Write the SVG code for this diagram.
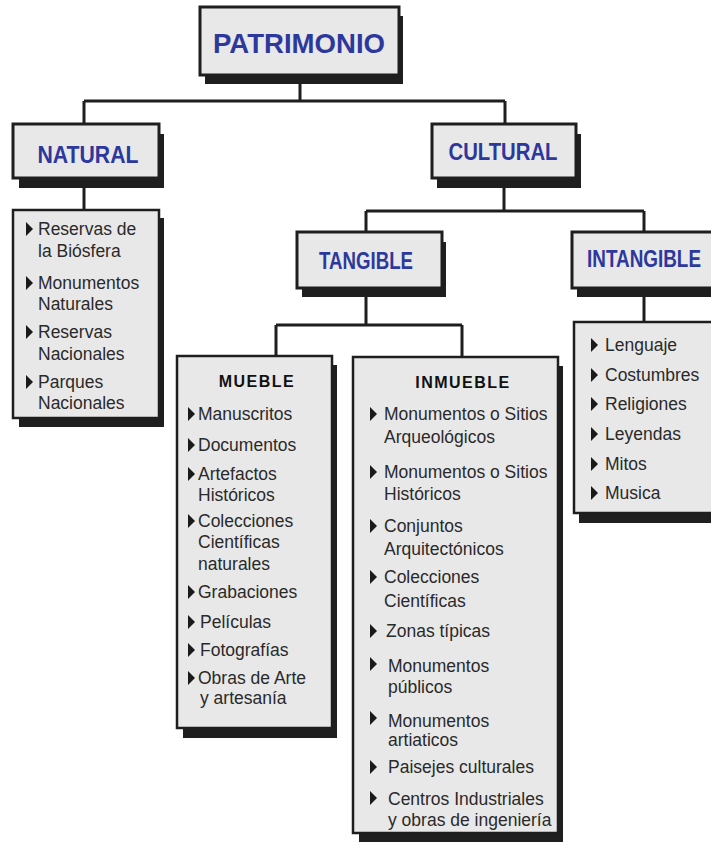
<svg xmlns="http://www.w3.org/2000/svg" xmlns:xlink="http://www.w3.org/1999/xlink" width="711" height="867" viewBox="0 0 711 867">
<defs>
<style>
.box{fill:#e8e8e8;stroke:#1e1e1e;stroke-width:3}
.lbox{fill:#e8e8e8;stroke:#1e1e1e;stroke-width:2.5}
.sh{fill:#1f1f1f}
.title{font-family:"Liberation Sans",Arial,sans-serif;font-weight:bold;fill:#2d389c;text-anchor:middle}
.hd{font-family:"Liberation Sans",Arial,sans-serif;font-weight:bold;fill:#111;text-anchor:middle;font-size:16px;letter-spacing:1.5px}
.it{font-family:"Liberation Sans",Arial,sans-serif;font-size:17.5px;fill:#2a2a2a}
.con{stroke:#1e1e1e;stroke-width:3;fill:none}
</style>
<path id="b" d="M0,-13 L7,-6 L0,1 Z" fill="#1a1a1a"/>
</defs>
<rect width="711" height="867" fill="#ffffff"/>

<g id="connectors" class="con">
<path d="M300,84 V101 M84,101 H505 M84,101 V124 M505,101 V124"/>
<path d="M84,188 V210"/>
<path d="M504,188 V211 M366,211 H644 M366,211 V232 M644,211 V232"/>
<path d="M366,297 V325 M276,325 H462 M276,325 V356 M462,325 V357"/>
<path d="M644,297 V322"/>
</g>

<g id="patrimonio">
<rect class="sh" x="205" y="16" width="198" height="68"/>
<rect class="box" x="200" y="7" width="199" height="68"/>
<text class="title" x="299" y="53" font-size="28" textLength="172" lengthAdjust="spacingAndGlyphs">PATRIMONIO</text>
</g>

<g id="natural">
<rect class="sh" x="19" y="134" width="145" height="54"/>
<rect class="box" x="13" y="124" width="146" height="54"/>
<text class="title" x="88" y="163" font-size="24" textLength="101" lengthAdjust="spacingAndGlyphs">NATURAL</text>
</g>

<g id="natural-list">
<rect class="sh" x="19" y="218" width="145" height="209"/>
<rect class="lbox" x="13" y="210" width="146" height="208"/>
<use xlink:href="#b" x="26" y="235"/><text class="it" x="38" y="235">Reservas de</text>
<text class="it" x="38" y="257">la Biósfera</text>
<use xlink:href="#b" x="26" y="289"/><text class="it" x="38" y="289">Monumentos</text>
<text class="it" x="38" y="310">Naturales</text>
<use xlink:href="#b" x="26" y="338"/><text class="it" x="38" y="338">Reservas</text>
<text class="it" x="38" y="360">Nacionales</text>
<use xlink:href="#b" x="26" y="388"/><text class="it" x="38" y="388">Parques</text>
<text class="it" x="38" y="409">Nacionales</text>
</g>

<g id="cultural">
<rect class="sh" x="437" y="134" width="144" height="54"/>
<rect class="box" x="432" y="124" width="144" height="54"/>
<text class="title" x="503" y="160" font-size="24" textLength="109" lengthAdjust="spacingAndGlyphs">CULTURAL</text>
</g>

<g id="tangible">
<rect class="sh" x="302" y="242" width="144" height="55"/>
<rect class="box" x="297" y="232" width="145" height="56"/>
<text class="title" x="366" y="269" font-size="24" textLength="94" lengthAdjust="spacingAndGlyphs">TANGIBLE</text>
</g>

<g id="intangible">
<rect class="sh" x="577" y="242" width="140" height="55"/>
<rect class="box" x="572" y="232" width="145" height="56"/>
<text class="title" x="644" y="267" font-size="23" textLength="114" lengthAdjust="spacingAndGlyphs">INTANGIBLE</text>
</g>

<g id="intangible-list">
<rect class="sh" x="579" y="330" width="140" height="193"/>
<rect class="lbox" x="574" y="322" width="145" height="191"/>
<use xlink:href="#b" x="591" y="351"/><text class="it" x="605" y="351">Lenguaje</text>
<use xlink:href="#b" x="591" y="381"/><text class="it" x="605" y="381">Costumbres</text>
<use xlink:href="#b" x="591" y="410"/><text class="it" x="605" y="410">Religiones</text>
<use xlink:href="#b" x="591" y="440"/><text class="it" x="605" y="440">Leyendas</text>
<use xlink:href="#b" x="591" y="470"/><text class="it" x="605" y="470">Mitos</text>
<use xlink:href="#b" x="591" y="499"/><text class="it" x="605" y="499">Musica</text>
</g>

<g id="mueble">
<rect class="sh" x="183" y="365" width="154" height="373"/>
<rect class="lbox" x="177" y="356" width="155" height="372"/>
<text class="hd" x="257" y="387">MUEBLE</text>
<use xlink:href="#b" x="188" y="420"/><text class="it" x="198" y="420">Manuscritos</text>
<use xlink:href="#b" x="188" y="451"/><text class="it" x="198" y="451">Documentos</text>
<use xlink:href="#b" x="188" y="480"/><text class="it" x="198" y="480">Artefactos</text>
<text class="it" x="198" y="501">Históricos</text>
<use xlink:href="#b" x="188" y="527"/><text class="it" x="198" y="527">Colecciones</text>
<text class="it" x="198" y="548">Científicas</text>
<text class="it" x="198" y="570">naturales</text>
<use xlink:href="#b" x="188" y="598"/><text class="it" x="198" y="598">Grabaciones</text>
<use xlink:href="#b" x="188" y="628"/><text class="it" x="200" y="628">Películas</text>
<use xlink:href="#b" x="188" y="656"/><text class="it" x="200" y="656">Fotografías</text>
<use xlink:href="#b" x="188" y="684"/><text class="it" x="198" y="684">Obras de Arte</text>
<text class="it" x="200" y="704">y artesanía</text>
</g>

<g id="inmueble">
<rect class="sh" x="359" y="366" width="204" height="476"/>
<rect class="lbox" x="353" y="357" width="205" height="476"/>
<text class="hd" x="463" y="388">INMUEBLE</text>
<use xlink:href="#b" x="370" y="420"/><text class="it" x="384" y="420">Monumentos o Sitios</text>
<text class="it" x="384" y="443">Arqueológicos</text>
<use xlink:href="#b" x="370" y="478"/><text class="it" x="384" y="478">Monumentos o Sitios</text>
<text class="it" x="384" y="500">Históricos</text>
<use xlink:href="#b" x="370" y="532"/><text class="it" x="384" y="532">Conjuntos</text>
<text class="it" x="384" y="555">Arquitectónicos</text>
<use xlink:href="#b" x="370" y="583"/><text class="it" x="384" y="583">Colecciones</text>
<text class="it" x="384" y="607">Científicas</text>
<use xlink:href="#b" x="370" y="637"/><text class="it" x="386" y="637">Zonas típicas</text>
<use xlink:href="#b" x="370" y="670"/><text class="it" x="388" y="672">Monumentos</text>
<text class="it" x="388" y="693">públicos</text>
<use xlink:href="#b" x="370" y="724"/><text class="it" x="388" y="727">Monumentos</text>
<text class="it" x="388" y="746">artiaticos</text>
<use xlink:href="#b" x="370" y="773"/><text class="it" x="388" y="773">Paisejes culturales</text>
<use xlink:href="#b" x="370" y="804"/><text class="it" x="388" y="805">Centros Industriales</text>
<text class="it" x="388" y="826">y obras de ingeniería</text>
</g>
</svg>
